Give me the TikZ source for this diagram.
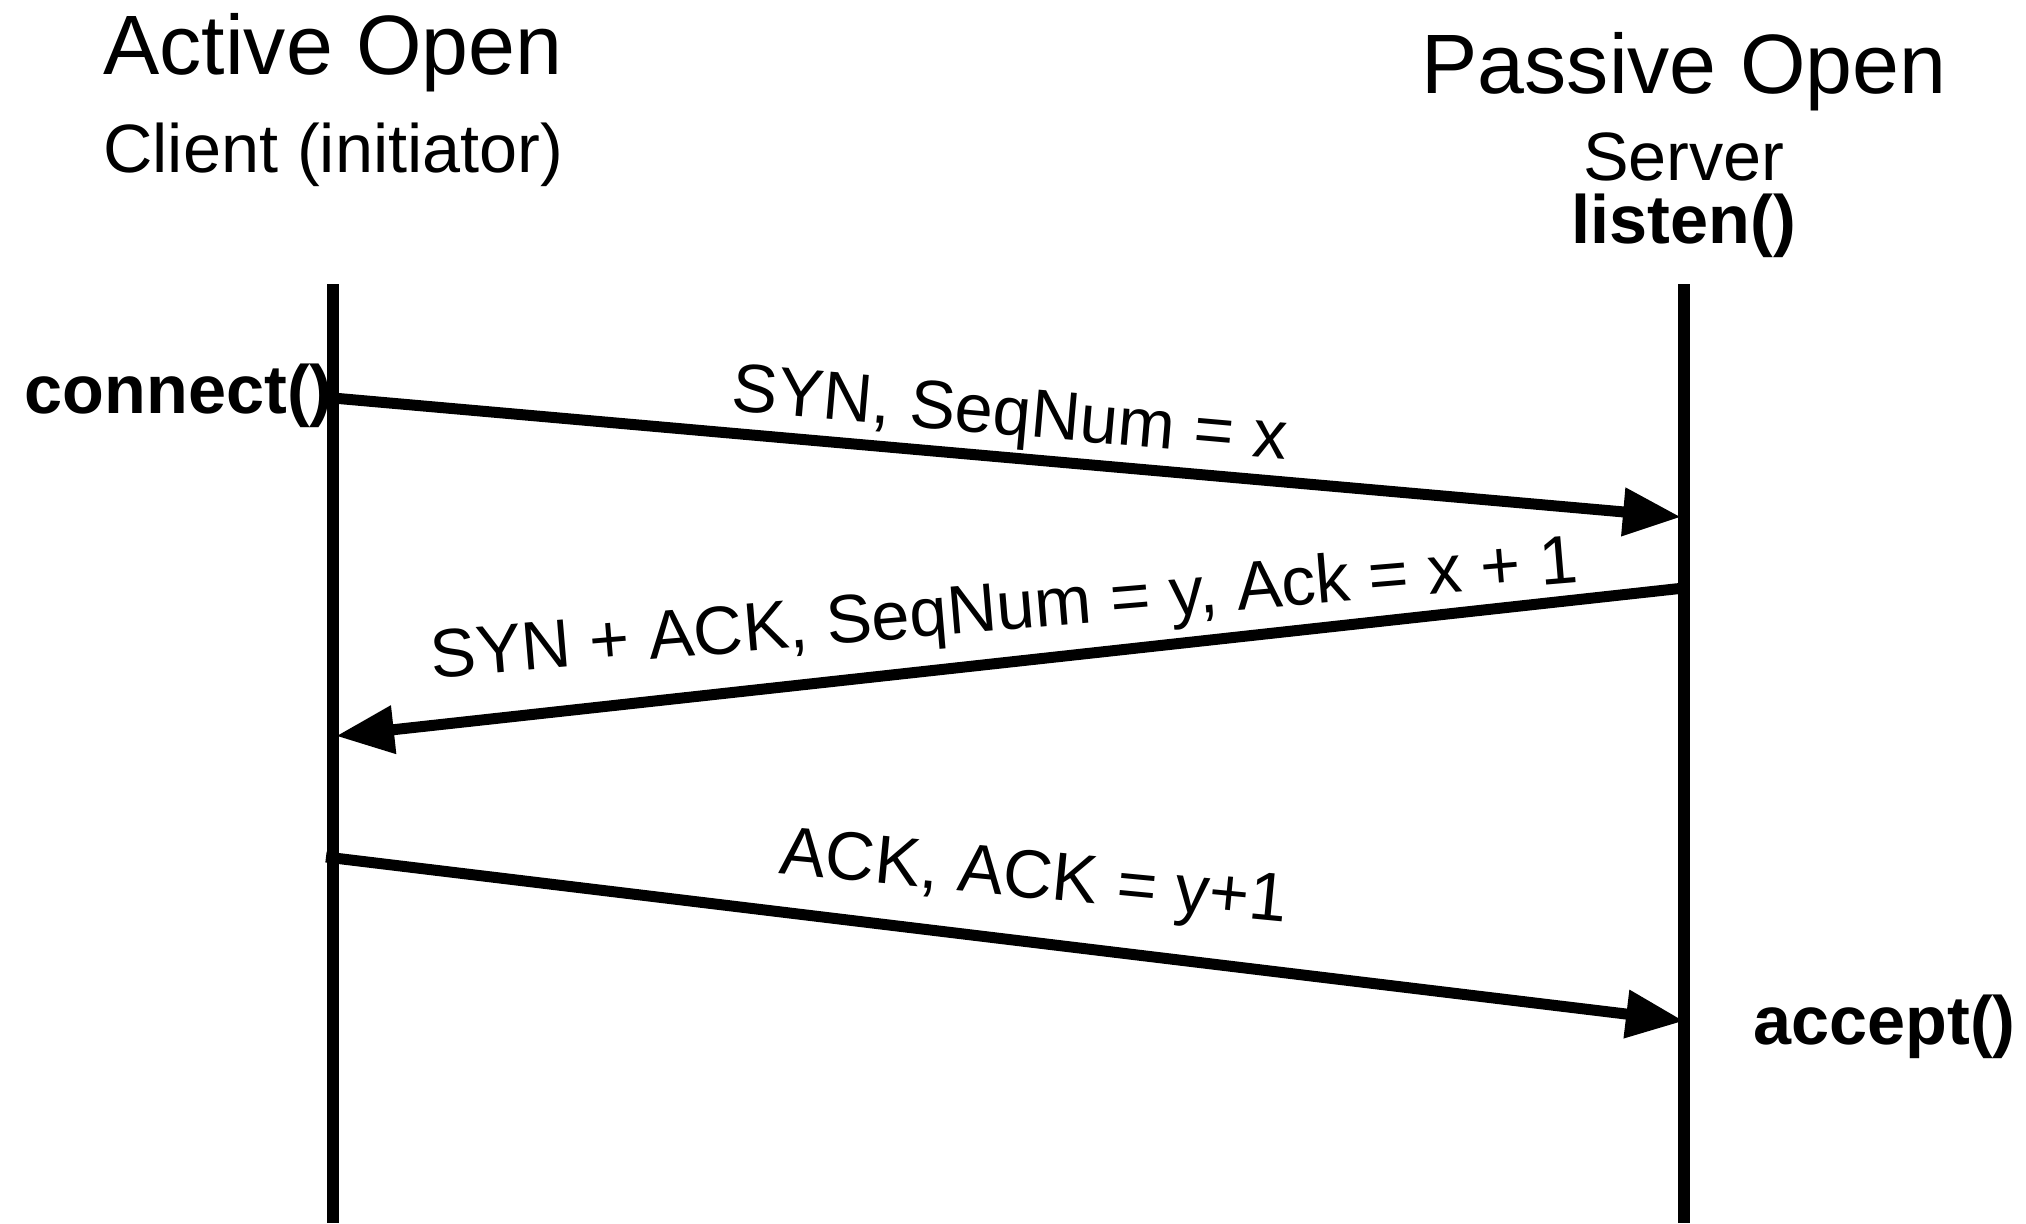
\documentclass[tikz,border=0pt]{standalone}
\usepackage{fontspec}
\setmainfont{Liberation Sans}
\usetikzlibrary{arrows.meta}
\begin{document}
\begin{tikzpicture}[x=0.5pt,y=-0.5pt,
  bigtxt/.style={inner sep=0pt,font=\fontsize{42.15pt}{50pt}\selectfont},
  midtxt/.style={inner sep=0pt,font=\fontsize{34.2pt}{40pt}\selectfont},
  boldtxt/.style={inner sep=0pt,font=\fontsize{34.2pt}{40pt}\selectfont\bfseries},
  lifeline/.style={line width=5.8pt},
  msg/.style={line width=5.5pt,-{Triangle[length=29pt,width=23pt]}},
  msglabel/.style={inner sep=0pt,anchor=base,font=\fontsize{34.2pt}{40pt}\selectfont}]
\useasboundingbox (0,0) rectangle (2026,1223);
% headings
\node[bigtxt,anchor=base west] (act) at (103,74) {Active Open};
\node[midtxt,anchor=base west] (cli) at (103,172) {Client (initiator)};
\node[bigtxt,anchor=base] (pas) at (1684,93) {Passive Open};
\node[midtxt,anchor=base] (srv) at (1684,180) {Server};
\node[boldtxt,anchor=base] (lis) at (1684,243) {listen()};
% lifelines
\coordinate (ltop) at (333,284);
\coordinate (lbot) at (333,1223);
\coordinate (rtop) at (1684,284);
\coordinate (rbot) at (1684,1223);
\draw[lifeline] (ltop) -- (lbot);
\draw[lifeline] (rtop) -- (rbot);
% call labels
\node[boldtxt,anchor=base east] (con) at (333,413) {connect()};
\node[boldtxt,anchor=base west] (acc) at (1753,1044) {accept()};
% message end points
\coordinate (m1s) at (333,398);
\coordinate (m1e) at (1681,517);
\coordinate (m2s) at (1684,588);
\coordinate (m2e) at (336,736);
\coordinate (m3s) at (326,857);
\coordinate (m3e) at (1684,1021);
\draw[msg] (m1s) -- (m1e);
\draw[msg] (m2s) -- (m2e);
\draw[msg] (m3s) -- (m3e);
% message labels
\node[msglabel,rotate=-5.05] (l1) at (1008,435) {SYN, SeqNum = x};
\node[msglabel,rotate=4.8] (l2) at (1006,630) {SYN + ACK, SeqNum = y, Ack = x + 1};
\node[msglabel,rotate=-5.5] (l3) at (1032,898) {ACK, ACK = y+1};
\end{tikzpicture}
\end{document}
